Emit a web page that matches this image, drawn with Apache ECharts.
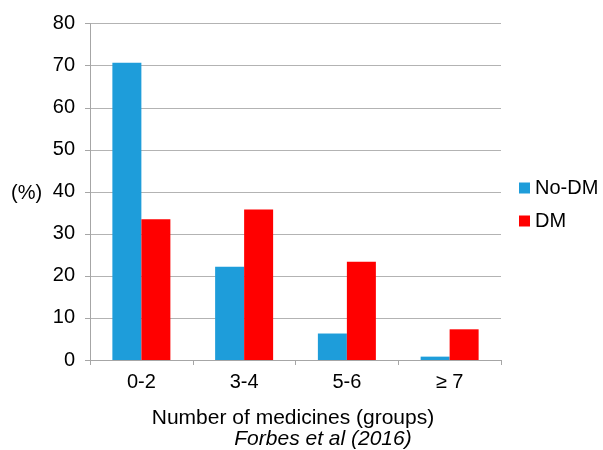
<!DOCTYPE html>
<html>
<head>
<meta charset="utf-8">
<script src="https://cdn.jsdelivr.net/npm/echarts@6/dist/echarts.min.js"></script>
<style>
  html, body { margin: 0; padding: 0; background: #fff; }
  #chart { width: 603px; height: 450px; }
</style>
</head>
<body>
<div id="chart"></div>
<script>
// Share of patients (%) by number of medicines taken
const categories = ['0-2', '3-4', '5-6', '≥ 7'];
const noDM = [70.7, 22.2, 6.3, 0.8];
const dm = [33.5, 35.8, 23.4, 7.3];
const yTicks = { min: 0, max: 80, interval: 10 };

const FONT = '"Liberation Sans", Arial, Helvetica, sans-serif';
const chart = echarts.init(document.getElementById('chart'), null, { renderer: 'canvas' });

chart.setOption({
  animation: false,
  textStyle: { fontFamily: FONT, color: '#000' },
  grid: { left: 90, right: 102, top: 23.7, bottom: 90 },
  legend: {
    orient: 'vertical',
    left: 519,
    top: 178,
    padding: 0,
    itemWidth: 11,
    itemHeight: 11,
    itemGap: 13,
    icon: 'rect',
    textStyle: { fontFamily: FONT, fontSize: 20, color: '#000' },
    data: ['No-DM', 'DM']
  },
  xAxis: {
    type: 'category',
    data: categories,
    axisLine: { lineStyle: { color: '#a6a6a6', width: 1 } },
    axisTick: { show: true, length: 5, lineStyle: { color: '#a6a6a6' } },
    axisLabel: { fontFamily: FONT, fontSize: 20, color: '#000', margin: 12 }
  },
  yAxis: {
    type: 'value',
    min: yTicks.min,
    max: yTicks.max,
    interval: yTicks.interval,
    axisLine: { show: true, lineStyle: { color: '#a6a6a6', width: 1 } },
    axisTick: { show: true, length: 5, lineStyle: { color: '#a6a6a6' } },
    axisLabel: { fontFamily: FONT, fontSize: 20, color: '#000', margin: 15 },
    splitLine: { lineStyle: { color: '#b3b3b3', width: 1 } }
  },
  graphic: [
    { type: 'text', x: 11, y: 193, style: { text: '(%)', font: '20px ' + FONT, fill: '#000', align: 'left', verticalAlign: 'middle' } },
    { type: 'text', x: 293, y: 418, style: { text: 'Number of medicines (groups)', font: '21px ' + FONT, fill: '#000', align: 'center', verticalAlign: 'middle' } },
    { type: 'text', x: 323, y: 439, style: { text: 'Forbes et al (2016)', font: 'italic 21px ' + FONT, fill: '#000', align: 'center', verticalAlign: 'middle' } }
  ],
  series: [
    {
      name: 'No-DM', type: 'bar', data: noDM, barWidth: 29, barGap: '0%',
      itemStyle: { color: '#1E9DDA' }
    },
    {
      name: 'DM', type: 'bar', data: dm, barWidth: 29,
      itemStyle: { color: '#FF0000' }
    }
  ]
});
</script>
</body>
</html>
